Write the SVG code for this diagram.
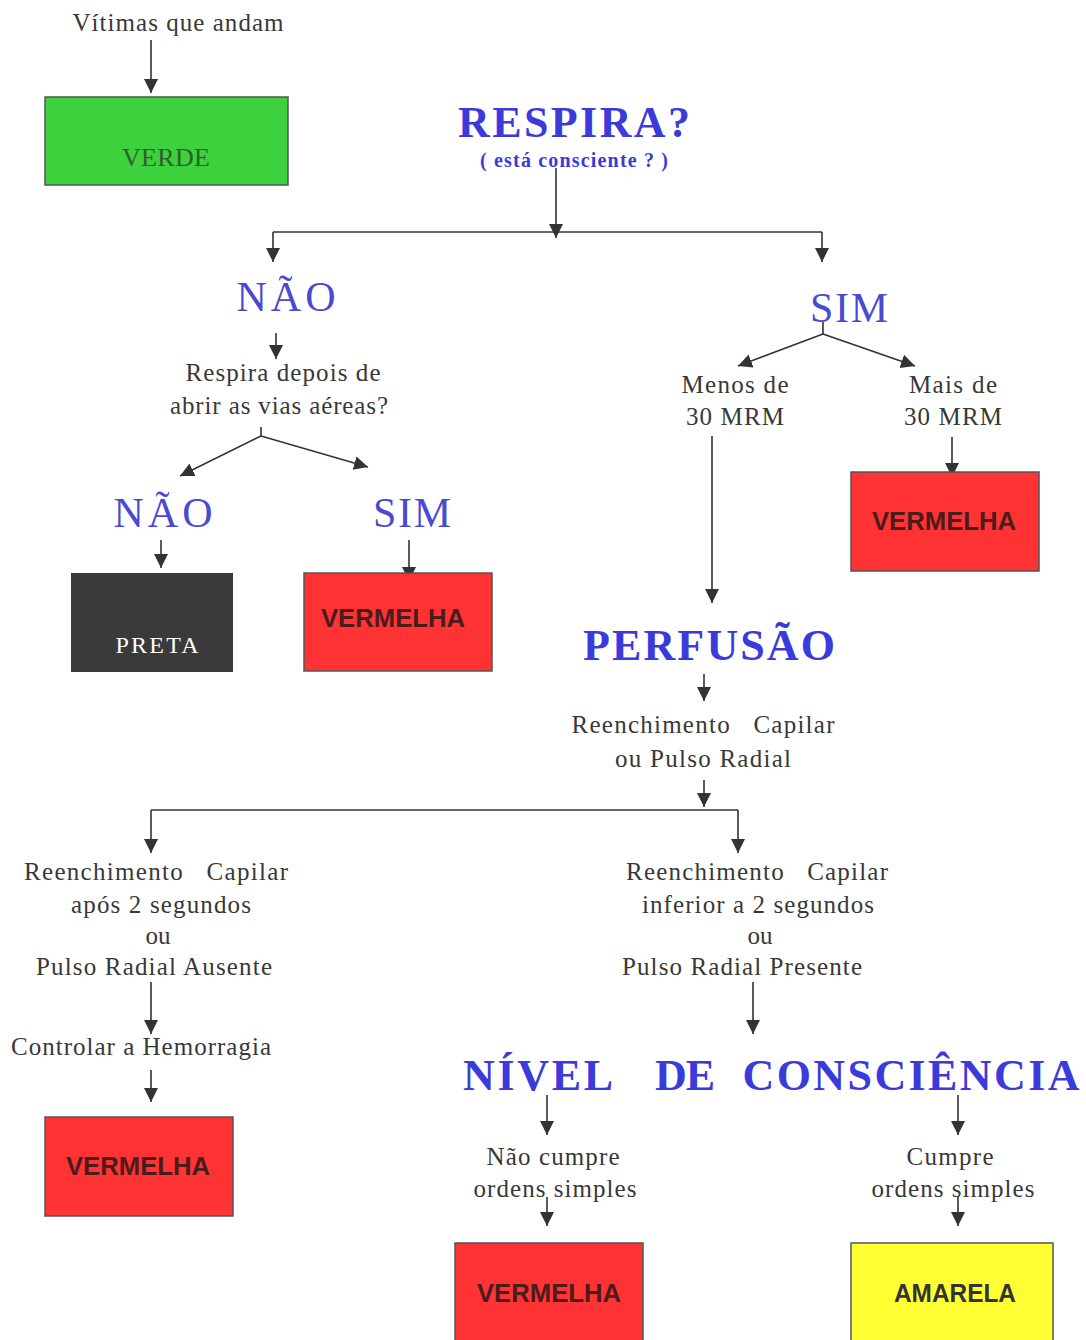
<svg xmlns="http://www.w3.org/2000/svg" width="1086" height="1340" viewBox="0 0 1086 1340">
<defs>
<marker id="ah" markerUnits="userSpaceOnUse" markerWidth="16" markerHeight="16" refX="14" refY="7" orient="auto">
<path d="M0,0 L14,7 L0,14 Z" fill="#333"/>
</marker>
<style>
.t{font-family:"Liberation Serif",serif;font-size:25px;fill:#383838;text-anchor:middle}
.pre{white-space:pre}
.h{font-family:"Liberation Serif",serif;font-weight:bold;font-size:44px;fill:#3b3bdc;text-anchor:middle}
.b{font-family:"Liberation Serif",serif;font-size:42px;fill:#4a4ad0;text-anchor:middle}
.box{stroke:#555;stroke-width:1.5}
.lab{font-family:"Liberation Sans",Arial,sans-serif;font-weight:bold;font-size:26px;text-anchor:middle}
.c{stroke:#333;stroke-width:1.6;fill:none}
.a{stroke:#333;stroke-width:1.6;fill:none;marker-end:url(#ah)}
</style>
</defs>
<rect width="1086" height="1340" fill="#fff"/>

<g id="connectors">
<line class="a" x1="151" y1="40" x2="151" y2="93"/>
<line class="a" x1="556" y1="168" x2="556" y2="238"/>
<line class="c" x1="273" y1="232" x2="822" y2="232"/>
<line class="a" x1="273" y1="232" x2="273" y2="262"/>
<line class="a" x1="822" y1="232" x2="822" y2="262"/>
<line class="a" x1="276" y1="333" x2="276" y2="359"/>
<line class="c" x1="261" y1="427" x2="261" y2="436"/>
<line class="a" x1="261" y1="436" x2="180" y2="476"/>
<line class="a" x1="261" y1="436" x2="368" y2="467"/>
<line class="a" x1="161" y1="540" x2="161" y2="568"/>
<line class="a" x1="409" y1="540" x2="409" y2="581"/>
<line class="c" x1="823" y1="322" x2="823" y2="334"/>
<line class="a" x1="823" y1="334" x2="738" y2="366"/>
<line class="a" x1="823" y1="334" x2="915" y2="366"/>
<line class="a" x1="952" y1="437" x2="952" y2="477"/>
<line class="a" x1="712" y1="436" x2="712" y2="603"/>
<line class="a" x1="704" y1="674" x2="704" y2="701"/>
<line class="a" x1="704" y1="780" x2="704" y2="807"/>
<line class="c" x1="151" y1="810" x2="738" y2="810"/>
<line class="a" x1="151" y1="810" x2="151" y2="853"/>
<line class="a" x1="738" y1="810" x2="738" y2="853"/>
<line class="a" x1="151" y1="982" x2="151" y2="1034"/>
<line class="a" x1="151" y1="1070" x2="151" y2="1102"/>
<line class="a" x1="753" y1="982" x2="753" y2="1034"/>
<line class="a" x1="547" y1="1095" x2="547" y2="1135"/>
<line class="a" x1="547" y1="1197" x2="547" y2="1226"/>
<line class="a" x1="958" y1="1095" x2="958" y2="1135"/>
<line class="a" x1="958" y1="1197" x2="958" y2="1226"/>
</g>

<g id="vitimas"><text class="t" x="178" y="31" textLength="211" lengthAdjust="spacing">Vítimas que andam</text></g>
<g id="verde">
<rect class="box" x="45" y="97" width="243" height="88" fill="#3dd13d"/>
<text x="166" y="166" font-family="Liberation Serif,serif" font-size="26" fill="#2f5f2f" text-anchor="middle" textLength="88" lengthAdjust="spacing">VERDE</text>
</g>

<g id="respira">
<text class="h" x="574" y="137" textLength="232" lengthAdjust="spacing">RESPIRA?</text>
<text x="574" y="167" font-family="Liberation Serif,serif" font-weight="bold" font-size="20" fill="#3b3bdc" text-anchor="middle" textLength="188" lengthAdjust="spacing">( está consciente ? )</text>
</g>

<g id="nao1"><text class="b" x="286" y="311" textLength="99" lengthAdjust="spacing">NÃO</text></g>
<g id="respira-depois">
<text class="t" x="283" y="381" textLength="195" lengthAdjust="spacing">Respira depois de</text>
<text class="t" x="279" y="414" textLength="218" lengthAdjust="spacing">abrir as vias aéreas?</text>
</g>
<g id="nao2"><text class="b" x="163" y="527" textLength="99" lengthAdjust="spacing">NÃO</text></g>
<g id="sim2"><text class="b" x="412" y="527" textLength="78" lengthAdjust="spacing">SIM</text></g>
<g id="preta">
<rect x="71" y="573" width="162" height="99" fill="#3a3a3a"/>
<text x="157" y="653" font-family="Liberation Serif,serif" font-size="24" fill="#fff" text-anchor="middle" textLength="83" lengthAdjust="spacing">PRETA</text>
</g>
<g id="vermelha1">
<rect class="box" x="304" y="573" width="188" height="98" fill="#ff3333"/>
<text class="lab" x="393" y="627" fill="#4a1c1c" textLength="144" lengthAdjust="spacingAndGlyphs">VERMELHA</text>
</g>

<g id="sim1"><text class="b" x="849" y="322" textLength="78" lengthAdjust="spacing">SIM</text></g>
<g id="menos">
<text class="t" x="735" y="393" textLength="107" lengthAdjust="spacing">Menos de</text>
<text class="t" x="735" y="425" textLength="98" lengthAdjust="spacing">30 MRM</text>
</g>
<g id="mais">
<text class="t" x="953" y="393" textLength="88" lengthAdjust="spacing">Mais de</text>
<text class="t" x="953" y="425" textLength="98" lengthAdjust="spacing">30 MRM</text>
</g>
<g id="vermelha2">
<rect class="box" x="851" y="472" width="188" height="99" fill="#ff3333"/>
<text class="lab" x="944" y="530" fill="#4a1c1c" textLength="144" lengthAdjust="spacingAndGlyphs">VERMELHA</text>
</g>

<g id="perfusao"><text class="h" x="709" y="660" textLength="252" lengthAdjust="spacing">PERFUSÃO</text></g>
<g id="reench">
<text class="t pre" x="703" y="733" textLength="263" lengthAdjust="spacing">Reenchimento   Capilar</text>
<text class="t" x="703" y="767" textLength="176" lengthAdjust="spacing">ou Pulso Radial</text>
</g>

<g id="ausente">
<text class="t pre" x="156" y="880" textLength="264" lengthAdjust="spacing">Reenchimento   Capilar</text>
<text class="t" x="161" y="913" textLength="180" lengthAdjust="spacing">após 2 segundos</text>
<text class="t" x="158" y="944" textLength="25" lengthAdjust="spacing">ou</text>
<text class="t" x="154" y="975" textLength="236" lengthAdjust="spacing">Pulso Radial Ausente</text>
</g>
<g id="controlar"><text class="t" x="141" y="1055" textLength="260" lengthAdjust="spacing">Controlar a Hemorragia</text></g>
<g id="vermelha3">
<rect class="box" x="45" y="1117" width="188" height="99" fill="#ff3333"/>
<text class="lab" x="138" y="1175" fill="#4a1c1c" textLength="144" lengthAdjust="spacingAndGlyphs">VERMELHA</text>
</g>

<g id="presente">
<text class="t pre" x="757" y="880" textLength="262" lengthAdjust="spacing">Reenchimento   Capilar</text>
<text class="t" x="758" y="913" textLength="232" lengthAdjust="spacing">inferior a 2 segundos</text>
<text class="t" x="760" y="944" textLength="25" lengthAdjust="spacing">ou</text>
<text class="t" x="742" y="975" textLength="240" lengthAdjust="spacing">Pulso Radial Presente</text>
</g>

<g id="nivel">
<text class="h" x="538" y="1090" textLength="150" lengthAdjust="spacing">NÍVEL</text>
<text class="h" x="685" y="1090" textLength="60" lengthAdjust="spacing">DE</text>
<text class="h" x="911" y="1090" textLength="337" lengthAdjust="spacing">CONSCIÊNCIA</text>
</g>
<g id="nao-cumpre">
<text class="t" x="553" y="1165" textLength="133" lengthAdjust="spacing">Não cumpre</text>
<text class="t" x="555" y="1197" textLength="163" lengthAdjust="spacing">ordens simples</text>
</g>
<g id="cumpre">
<text class="t" x="950" y="1165" textLength="87" lengthAdjust="spacing">Cumpre</text>
<text class="t" x="953" y="1197" textLength="163" lengthAdjust="spacing">ordens simples</text>
</g>
<g id="vermelha4">
<rect class="box" x="455" y="1243" width="188" height="110" fill="#ff3333"/>
<text class="lab" x="549" y="1302" fill="#4a1c1c" textLength="144" lengthAdjust="spacingAndGlyphs">VERMELHA</text>
</g>
<g id="amarela">
<rect class="box" x="851" y="1243" width="202" height="110" fill="#ffff33"/>
<text class="lab" x="955" y="1302" fill="#333" textLength="122" lengthAdjust="spacingAndGlyphs">AMARELA</text>
</g>
</svg>
